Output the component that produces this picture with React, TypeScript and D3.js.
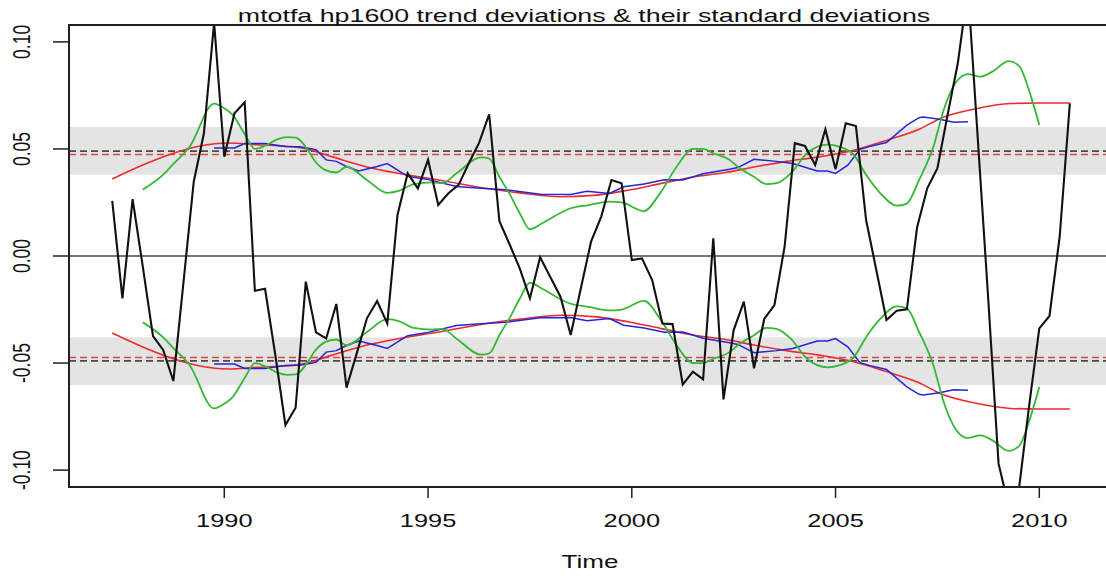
import React from "react";
import * as d3 from "d3";

const W = 1106;
const H = 576;
const PLOT = { left: 69, right: 1110, top: 25, bottom: 487 };
const SX = 1.41; // horizontal stretch of the original rendering
const FONT = "'Liberation Sans', Arial, Helvetica, sans-serif";

const title = "mtotfa hp1600 trend deviations & their standard deviations";
const xLabel = "Time";
const xTicks = [1990, 1995, 2000, 2005, 2010];
const yTicks = [-0.1, -0.05, 0, 0.05, 0.1];
const yTickLabels = ["-0.10", "-0.05", "0.00", "0.05", "0.10"];

// quarterly trend deviations, starting 1987 Q2
const devStart = 1987.25;
const deviations = [
  0.0257, -0.0198, 0.0266,
  -0.005, -0.0374, -0.0439, -0.0584,
  -0.012, 0.0347, 0.0573, 0.109,
  0.0464, 0.0667, 0.0718, -0.0162,
  -0.0153, -0.046, -0.079, -0.0709,
  -0.012, -0.0357, -0.0385, -0.0224,
  -0.0615, -0.0455, -0.0291, -0.021,
  -0.0315, 0.0192, 0.0386, 0.0316,
  0.0449, 0.0238, 0.0293, 0.0332,
  0.0433, 0.0527, 0.0662, 0.0164,
  0.0055, -0.0058, -0.0198, -0.0006,
  -0.0098, -0.019, -0.0369, -0.0151,
  0.0067, 0.0184, 0.0355, 0.034,
  -0.0019, -0.0011, -0.0112, -0.0315,
  -0.0318, -0.06, -0.054, -0.0576,
  0.0083, -0.067, -0.0346, -0.0213,
  -0.0525, -0.0294, -0.0229, 0.0044,
  0.0527, 0.0514, 0.0425, 0.0592,
  0.0405, 0.062, 0.0607, 0.0168,
  -0.0065, -0.0299, -0.0256, -0.0249,
  0.0133, 0.0316, 0.041, 0.066,
  0.09, 0.125, 0.052, -0.021,
  -0.097, -0.117, -0.109, -0.07,
  -0.0338, -0.028, 0.009, 0.0713,
];

// smooth standard deviation (red)
const redYears = [
  1987.25, 1988.0, 1988.75, 1989.4, 1990.1, 1990.8, 1991.3, 1991.9, 1992.65,
  1993.5, 1994.3, 1995.3, 1996.45, 1997.25, 1998.25, 1999.05, 1999.9, 2000.7,
  2001.5, 2002.3, 2003.0, 2003.8, 2004.6, 2005.45, 2006.25, 2007.05, 2007.6,
  2008.45, 2009.3, 2010.0, 2010.75,
];
const redSd = [
  0.036, 0.0425, 0.048, 0.0514, 0.0528, 0.052, 0.0515, 0.0505, 0.0463,
  0.0416, 0.0385, 0.0354, 0.0315, 0.0295, 0.0277, 0.0283, 0.0307, 0.0338,
  0.0369, 0.039, 0.0416, 0.0442, 0.0463, 0.0494, 0.054, 0.0592, 0.0645,
  0.0688, 0.0712, 0.0715, 0.0715,
];

// rolling standard deviation (blue)
const blueYears = [
  1989.75, 1990.25, 1990.5, 1991.0, 1991.5, 1991.85, 1992.25, 1992.5, 1992.75,
  1993.0, 1993.3, 1993.75, 1994.0, 1994.5, 1994.95, 1995.7, 1996.3, 1996.9,
  1997.75, 1998.5, 1998.9, 1999.45, 1999.8, 2000.3, 2000.8, 2001.25, 2001.75,
  2002.4, 2002.6, 2003.0, 2003.55, 2003.95, 2004.55, 2004.8, 2005.0, 2005.3,
  2005.6, 2005.85, 2006.25, 2006.75, 2007.05, 2007.15, 2007.55, 2007.9, 2008.25,
];
const blueSd = [
  0.0505, 0.0505, 0.0525, 0.0525, 0.0512, 0.051, 0.0497, 0.0449, 0.0442,
  0.0418, 0.0397, 0.0418, 0.0432, 0.0372, 0.0359, 0.0325, 0.0317, 0.031,
  0.0289, 0.0287, 0.0302, 0.0292, 0.0323, 0.0336, 0.0356, 0.0355, 0.0384,
  0.0405, 0.0413, 0.0452, 0.0442, 0.0432, 0.0397, 0.0397, 0.0386, 0.0424,
  0.0498, 0.0512, 0.053, 0.0611, 0.0646, 0.0649, 0.0639, 0.0625, 0.0627,
];

// local standard deviation (green)
const greenYears = [
  1988.0, 1988.5, 1988.75, 1989.15, 1989.75, 1990.0, 1990.2, 1990.5, 1990.75,
  1991.0, 1991.3, 1991.55, 1991.75, 1992.1, 1992.2, 1992.5, 1992.75, 1993.0,
  1993.5, 1994.0, 1994.3, 1994.65, 1995.1, 1995.35, 1995.7, 1996.3, 1996.5,
  1996.75, 1997.0, 1997.25, 1997.5, 1997.8, 1998.5, 1998.95, 1999.45, 1999.75,
  2000.3, 2000.7, 2001.1, 2001.5, 2001.75, 2002.0, 2002.4, 2002.6, 2003.0,
  2003.3, 2003.55, 2003.9, 2004.3, 2004.8, 2005.1, 2005.45, 2005.75, 2006.1,
  2006.5, 2006.75, 2007.05, 2007.4, 2007.65, 2007.95, 2008.25, 2008.55, 2008.85,
  2009.25, 2009.5, 2009.8, 2010.0,
];
const greenSd = [
  0.031, 0.038, 0.043, 0.051, 0.0712, 0.069, 0.066, 0.057, 0.05,
  0.0515, 0.0545, 0.0555, 0.0553, 0.048, 0.045, 0.04, 0.039, 0.0417,
  0.0355, 0.0295, 0.0305, 0.0336, 0.0344, 0.034, 0.0386, 0.0461, 0.0455,
  0.037, 0.029, 0.02, 0.0125, 0.0153, 0.0223, 0.0238, 0.0254, 0.025,
  0.021, 0.0295, 0.0417, 0.05, 0.05, 0.048, 0.0449, 0.0417, 0.037,
  0.0336, 0.034, 0.0386, 0.048, 0.052, 0.051, 0.0472, 0.0379, 0.0293,
  0.0235, 0.0245, 0.0355, 0.051, 0.068, 0.081, 0.085, 0.0838, 0.0861,
  0.091, 0.0888, 0.0742, 0.0612,
];

const bandInner = 0.038;
const bandOuter = 0.0603;
const dashBlackLevel = 0.049;
const dashRedLevel = 0.0474;

const COLORS = {
  black: "#111111",
  red: "#ec2b2b",
  blue: "#2424dd",
  green: "#35b835",
  band: "#e4e4e4",
  zero: "#4a4a4a",
  dashBlack: "#4a4a4a",
  dashRed: "#e04848",
  axis: "#222222",
};

export default function App() {
  const x = d3
    .scaleLinear()
    .domain([1986.189, 2011.735])
    .range([PLOT.left, PLOT.right]);
  const y = d3.scaleLinear().domain([-0.1079, 0.1079]).range([PLOT.bottom, PLOT.top]);

  const pts = (years: number[], vals: number[], sign: number) =>
    years.map((yr, i) => [yr, sign * vals[i]] as [number, number]);

  const linear = d3
    .line<[number, number]>()
    .x((d) => x(d[0]))
    .y((d) => y(d[1]));
  const smooth = d3
    .line<[number, number]>()
    .x((d) => x(d[0]))
    .y((d) => y(d[1]))
    .curve(d3.curveMonotoneX);

  const devPts = deviations.map((v, i) => [devStart + i * 0.25, v] as [number, number]);

  const hline = (v: number) => `M${PLOT.left},${y(v)}H${PLOT.right}`;

  return (
    <svg
      width={W}
      height={H}
      style={{ position: "absolute", left: 0, top: 0, display: "block", background: "#fff" }}
      fontFamily={FONT}
    >
      <defs>
        <clipPath id="plotclip">
          <rect
            x={PLOT.left}
            y={PLOT.top}
            width={PLOT.right - PLOT.left}
            height={PLOT.bottom - PLOT.top}
          />
        </clipPath>
      </defs>

      <g clipPath="url(#plotclip)">
        {[1, -1].map((s) => (
          <rect
            key={"band" + s}
            x={PLOT.left}
            width={PLOT.right - PLOT.left}
            y={y(s > 0 ? bandOuter : -bandInner)}
            height={Math.abs(y(bandInner) - y(bandOuter))}
            fill={COLORS.band}
          />
        ))}
        {[1, -1].map((s) => (
          <g key={"dash" + s}>
            <path
              d={hline(s * dashBlackLevel)}
              stroke={COLORS.dashBlack}
              strokeWidth={1.6}
              strokeDasharray="7,4"
              fill="none"
            />
            <path
              d={hline(s * dashRedLevel)}
              stroke={COLORS.dashRed}
              strokeWidth={1.6}
              strokeDasharray="7,4"
              fill="none"
            />
          </g>
        ))}
        <path d={hline(0)} stroke={COLORS.zero} strokeWidth={1.6} fill="none" />

        {[1, -1].map((s) => (
          <path
            key={"red" + s}
            d={smooth(pts(redYears, redSd, s)) || ""}
            stroke={COLORS.red}
            strokeWidth={1.6}
            fill="none"
          />
        ))}
        {[1, -1].map((s) => (
          <path
            key={"blue" + s}
            d={linear(pts(blueYears, blueSd, s)) || ""}
            stroke={COLORS.blue}
            strokeWidth={1.5}
            fill="none"
          />
        ))}
        {[1, -1].map((s) => (
          <path
            key={"green" + s}
            d={smooth(pts(greenYears, greenSd, s)) || ""}
            stroke={COLORS.green}
            strokeWidth={1.8}
            fill="none"
          />
        ))}
        <path
          d={linear(devPts) || ""}
          stroke={COLORS.black}
          strokeWidth={2.1}
          strokeLinejoin="miter"
          fill="none"
        />
      </g>

      {/* box */}
      <path
        d={`M${PLOT.right},${PLOT.top}H${PLOT.left}V${PLOT.bottom}H${PLOT.right}`}
        stroke={COLORS.axis}
        strokeWidth={2}
        fill="none"
      />

      {/* y axis */}
      {yTicks.map((t, i) => (
        <g key={"yt" + t}>
          <line
            x1={PLOT.left - 16}
            x2={PLOT.left}
            y1={y(t)}
            y2={y(t)}
            stroke={COLORS.axis}
            strokeWidth={1.5}
          />
          <text
            transform={`translate(30,${y(t)}) scale(${SX},1) rotate(-90)`}
            textAnchor="middle"
            fontSize={17.5}
            fill="#111"
          >
            {yTickLabels[i]}
          </text>
        </g>
      ))}

      {/* x axis */}
      {xTicks.map((t) => (
        <g key={"xt" + t}>
          <line
            x1={x(t)}
            x2={x(t)}
            y1={PLOT.bottom}
            y2={PLOT.bottom + 11}
            stroke={COLORS.axis}
            strokeWidth={1.5}
          />
          <text
            transform={`translate(${x(t)},527) scale(${SX},1)`}
            textAnchor="middle"
            fontSize={18}
            fill="#111"
          >
            {t}
          </text>
        </g>
      ))}

      <text
        transform={`translate(590,568) scale(${SX},1)`}
        textAnchor="middle"
        fontSize={18.5}
        fill="#111"
      >
        {xLabel}
      </text>

      <text
        transform={`translate(584,21.5) scale(${SX},1)`}
        textAnchor="middle"
        fontSize={19}
        fill="#111"
      >
        {title}
      </text>
    </svg>
  );
}
